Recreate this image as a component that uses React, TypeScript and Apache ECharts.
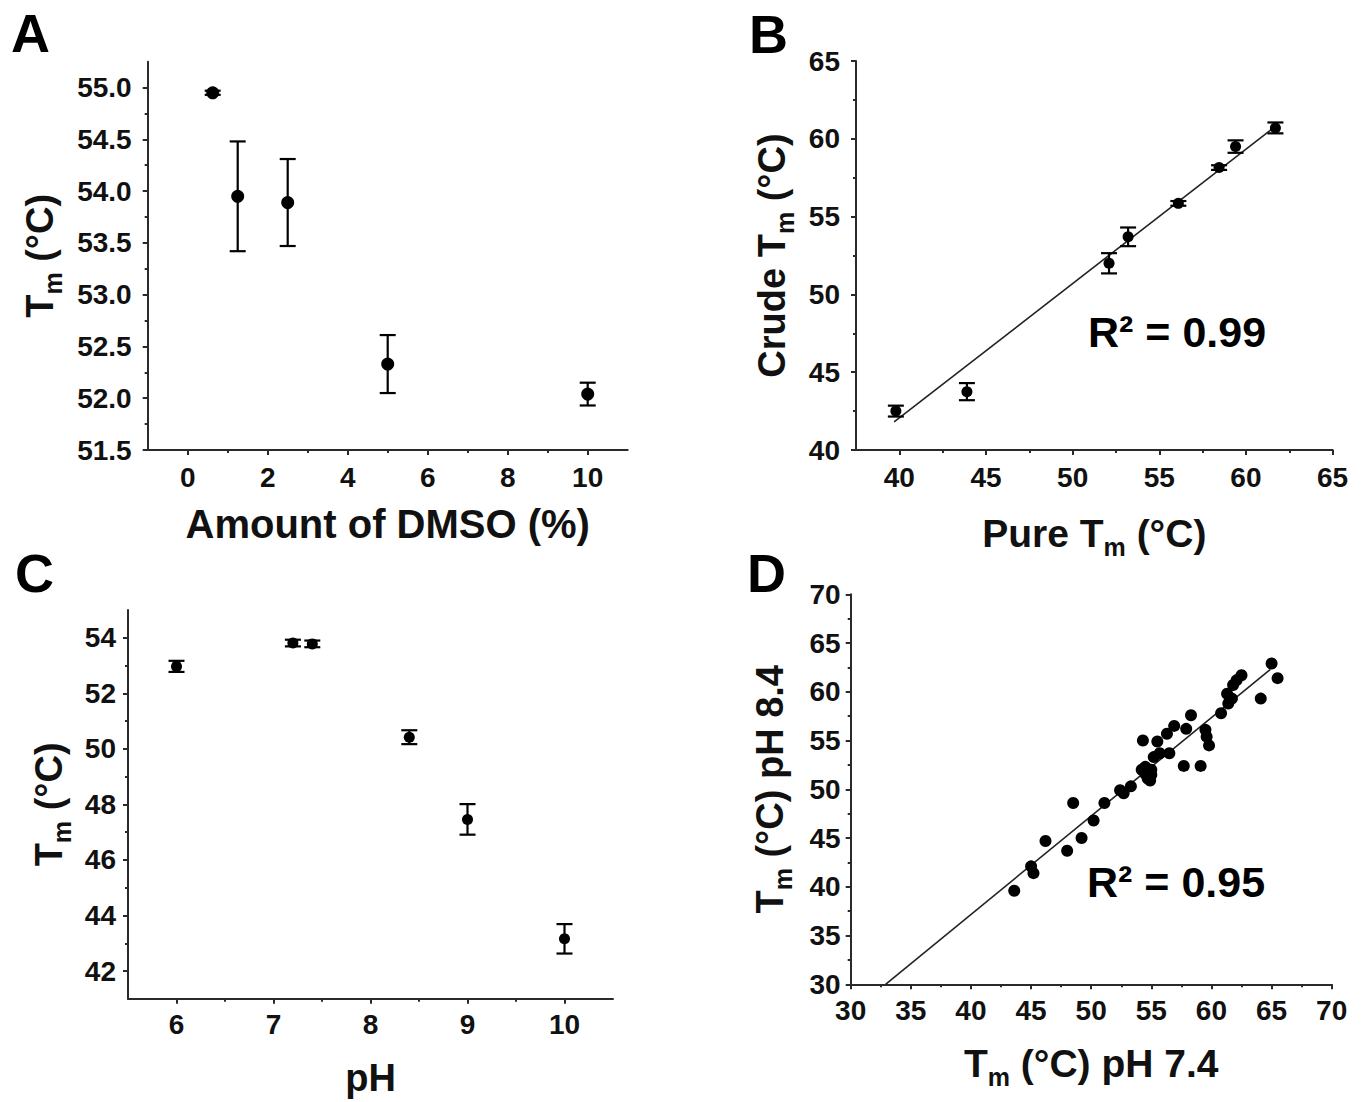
import React, { useEffect, useRef } from "react";
import * as echarts from "echarts";

// ---------- Panel A: DMSO ----------
const dmsoPct = [0.625, 1.25, 2.5, 5, 10];
const dmsoTm = [54.95, 53.95, 53.89, 52.33, 52.04];
const dmsoErr = [0.02, 0.53, 0.42, 0.28, 0.11];
const aXTicks = [0, 2, 4, 6, 8, 10];
const aXMinor = [1, 3, 5, 7, 9];
const aYTicks = [51.5, 52.0, 52.5, 53.0, 53.5, 54.0, 54.5, 55.0];
const aYMinor = [51.75, 52.25, 52.75, 53.25, 53.75, 54.25, 54.75];

// ---------- Panel B: pure vs crude ----------
const pureTm = [39.8, 43.9, 52.1, 53.2, 56.1, 58.45, 59.4, 61.7];
const crudeTm = [42.5, 43.75, 52.0, 53.7, 55.85, 58.15, 59.5, 60.7];
const crudeErr = [0.35, 0.55, 0.65, 0.6, 0.15, 0.15, 0.4, 0.35];
const bFitX = [39.7, 61.7];
const bFitY = [41.8, 60.8];
const bXTicks = [40, 45, 50, 55, 60, 65];
const bXMinor = [42.5, 47.5, 52.5, 57.5, 62.5];
const bYTicks = [40, 45, 50, 55, 60, 65];
const bYMinor = [42.5, 47.5, 52.5, 57.5, 62.5];

// ---------- Panel C: pH ----------
const phValues = [6, 7.2, 7.4, 8.4, 9, 10];
const phTm = [52.97, 53.81, 53.78, 50.42, 47.46, 43.16];
const phErr = [0.2, 0.12, 0.12, 0.25, 0.55, 0.53];
const cXTicks = [6, 7, 8, 9, 10];
const cXMinor = [6.5, 7.5, 8.5, 9.5];
const cYTicks = [42, 44, 46, 48, 50, 52, 54];
const cYMinor = [43, 45, 47, 49, 51, 53];

// ---------- Panel D: pH 7.4 vs pH 8.4 ----------
const dPh74 = [
  43.6, 45.0, 45.2, 46.2, 48.0, 48.5, 49.2, 50.2, 51.1, 52.4, 52.7, 53.3,
  54.3, 54.2, 54.5, 54.7, 55.0, 54.9, 54.5, 55.0, 55.2, 55.5, 55.7, 56.3,
  56.5, 56.9, 57.7, 57.9, 58.3, 59.1, 59.5, 59.6, 59.8, 60.8, 61.3, 61.4,
  61.7, 61.8, 62.1, 62.5, 64.1, 65.0, 65.5,
];
const dPh84 = [
  39.6, 42.1, 41.4, 44.7, 43.7, 48.6, 45.0, 46.8, 48.6, 49.9, 49.6, 50.3,
  55.0, 52.0, 51.6, 51.1, 51.5, 50.9, 52.3, 52.0, 53.3, 54.9, 53.7, 55.7,
  53.7, 56.5, 52.4, 56.2, 57.6, 52.4, 56.1, 55.4, 54.5, 57.8, 59.8, 58.8,
  59.3, 60.7, 61.2, 61.7, 59.3, 62.9, 61.4,
];
const dFitX = [32.9, 64.9];
const dFitY = [30, 62.3];
const dTicks = [30, 35, 40, 45, 50, 55, 60, 65, 70];
const dMinor = [32.5, 37.5, 42.5, 47.5, 52.5, 57.5, 62.5, 67.5];

const FONT = "'Liberation Sans', Arial, Helvetica, sans-serif";
const INK = "#111";
const AXIS = "#2a2a2a";

function titleStyle(size: number) {
  return {
    fontFamily: FONT,
    fontWeight: "bold",
    fontSize: size,
    color: INK,
    rich: {
      a: { fontFamily: FONT, fontWeight: "bold", fontSize: size, color: INK, lineHeight: size + 6 },
      s: {
        fontFamily: FONT,
        fontWeight: "bold",
        fontSize: 25,
        color: INK,
        lineHeight: 25,
        padding: [26, 0, 0, 0],
      },
    },
  };
}

function mainAxis(
  dim: "x" | "y",
  grid: number,
  min: number,
  max: number,
  ticks: number[],
  fmt: (v: number) => string,
  labelMargin: number,
  name: string,
  nameGap: number,
  nameSize: number
) {
  return {
    type: "value",
    gridIndex: grid,
    min,
    max,
    position: dim === "x" ? "bottom" : "left",
    axisLine: { show: true, onZero: false, lineStyle: { color: AXIS, width: 2 } },
    axisTick: {
      show: true,
      customValues: ticks,
      length: 5,
      inside: false,
      lineStyle: { color: AXIS, width: 2 },
    },
    axisLabel: {
      show: true,
      customValues: ticks,
      formatter: fmt,
      margin: labelMargin,
      color: INK,
      fontFamily: FONT,
      fontSize: 28,
      fontWeight: "bold",
    },
    splitLine: { show: false },
    minorTick: { show: false },
    name,
    nameLocation: "middle",
    nameGap,
    nameMoveOverlap: false,
    nameTextStyle: titleStyle(nameSize),
  };
}

function minorAxis(dim: "x" | "y", grid: number, min: number, max: number, ticks: number[]) {
  return {
    type: "value",
    gridIndex: grid,
    min,
    max,
    position: dim === "x" ? "bottom" : "left",
    axisLine: { show: false, onZero: false },
    axisTick: {
      show: true,
      customValues: ticks,
      length: 3,
      inside: false,
      lineStyle: { color: AXIS, width: 2 },
    },
    axisLabel: { show: false },
    splitLine: { show: false },
  };
}

const fmt1 = (v: number) => v.toFixed(1);
const fmt0 = (v: number) => String(Math.round(v));

function errorSeries(grid: number, xs: number[], ys: number[], es: number[], hw: number) {
  return {
    type: "custom",
    xAxisIndex: grid * 2,
    yAxisIndex: grid * 2,
    data: xs.map((x, i) => [x, ys[i] - es[i], ys[i] + es[i]]),
    encode: { x: 0, y: [1, 2] },
    z: 3,
    renderItem: (_params: any, api: any) => {
      const x = api.value(0);
      const lo = api.value(1);
      const hi = api.value(2);
      const top = api.coord([x, hi]);
      const bot = api.coord([x, lo]);
      const style = { stroke: "#000", lineWidth: 2.2, fill: "none" };
      return {
        type: "group",
        children: [
          { type: "line", shape: { x1: top[0], y1: top[1], x2: bot[0], y2: bot[1] }, style },
          { type: "line", shape: { x1: top[0] - hw, y1: top[1], x2: top[0] + hw, y2: top[1] }, style },
          { type: "line", shape: { x1: bot[0] - hw, y1: bot[1], x2: bot[0] + hw, y2: bot[1] }, style },
        ],
      };
    },
  };
}

function scatterSeries(grid: number, xs: number[], ys: number[], size: number) {
  return {
    type: "scatter",
    xAxisIndex: grid * 2,
    yAxisIndex: grid * 2,
    data: xs.map((x, i) => [x, ys[i]]),
    symbol: "circle",
    symbolSize: size,
    itemStyle: { color: "#000", opacity: 1 },
    z: 4,
  };
}

function fitSeries(grid: number, xs: number[], ys: number[]) {
  return {
    type: "line",
    xAxisIndex: grid * 2,
    yAxisIndex: grid * 2,
    data: xs.map((x, i) => [x, ys[i]]),
    symbol: "none",
    lineStyle: { color: "#222", width: 1.6 },
    z: 2,
  };
}

function letter(text: string, x: number, y: number) {
  return {
    type: "text",
    x,
    y,
    style: {
      text,
      fill: "#000",
      fontFamily: FONT,
      fontWeight: "bold",
      fontSize: 54,
      textAlign: "left",
      textVerticalAlign: "middle",
    },
  };
}

function rsq(text: string, x: number, y: number) {
  return {
    type: "text",
    x,
    y,
    style: {
      text,
      fill: "#000",
      fontFamily: FONT,
      fontWeight: "bold",
      fontSize: 43,
      textAlign: "left",
      textVerticalAlign: "middle",
    },
  };
}

export default function App() {
  const ref = useRef<HTMLDivElement>(null);

  useEffect(() => {
    document.body.style.margin = "0";
    if (!ref.current) return;
    const chart = echarts.init(ref.current, undefined, { renderer: "svg" });

    const option: any = {
      animation: false,
      backgroundColor: "#fff",
      grid: [
        { left: 147.7, top: 61.7, width: 480, height: 388.3, containLabel: false, outerBoundsMode: "none" },
        { left: 856, top: 61, width: 476.6, height: 389, containLabel: false, outerBoundsMode: "none" },
        { left: 128, top: 610, width: 485, height: 388.8, containLabel: false, outerBoundsMode: "none" },
        { left: 850.7, top: 594.3, width: 481, height: 390, containLabel: false, outerBoundsMode: "none" },
      ],
      xAxis: [
        mainAxis("x", 0, -1, 11, aXTicks, fmt0, 13, "Amount of DMSO (%)", 54, 40),
        minorAxis("x", 0, -1, 11, aXMinor),
        mainAxis("x", 1, 37.5, 65, bXTicks, fmt0, 13, "{a|Pure T}{s|m}{a| (°C)}", 61, 39),
        minorAxis("x", 1, 37.5, 65, bXMinor),
        mainAxis("x", 2, 5.5, 10.5, cXTicks, fmt0, 12, "pH", 60, 38),
        minorAxis("x", 2, 5.5, 10.5, cXMinor),
        mainAxis("x", 3, 30, 70, dTicks, fmt0, 12, "{a|T}{s|m}{a| (°C) pH 7.4}", 57, 39),
        minorAxis("x", 3, 30, 70, dMinor),
      ],
      yAxis: [
        mainAxis("y", 0, 51.5, 55.25, aYTicks, fmt1, 16, "{a|T}{s|m}{a| (°C)}", 86, 38),
        minorAxis("y", 0, 51.5, 55.25, aYMinor),
        mainAxis("y", 1, 40, 65, bYTicks, fmt0, 16, "{a|Crude T}{s|m}{a| (°C)}", 62, 38),
        minorAxis("y", 1, 40, 65, bYMinor),
        mainAxis("y", 2, 41, 55, cYTicks, fmt0, 12, "{a|T}{s|m}{a| (°C)}", 57, 38),
        minorAxis("y", 2, 41, 55, cYMinor),
        mainAxis("y", 3, 30, 70, dTicks, fmt0, 10, "{a|T}{s|m}{a| (°C) pH 8.4}", 59, 38),
        minorAxis("y", 3, 30, 70, dMinor),
      ],
      series: [
        errorSeries(0, dmsoPct, dmsoTm, dmsoErr, 8),
        scatterSeries(0, dmsoPct, dmsoTm, 13),
        fitSeries(1, bFitX, bFitY),
        errorSeries(1, pureTm, crudeTm, crudeErr, 8),
        scatterSeries(1, pureTm, crudeTm, 11),
        errorSeries(2, phValues, phTm, phErr, 8),
        scatterSeries(2, phValues, phTm, 11),
        fitSeries(3, dFitX, dFitY),
        scatterSeries(3, dPh74, dPh84, 12),
      ],
      graphic: [
        letter("A", 11, 33),
        letter("B", 749, 34),
        letter("C", 15, 573),
        letter("D", 747, 573),
        rsq("R² = 0.99", 1088, 332),
        rsq("R² = 0.95", 1087, 882),
      ],
    };

    chart.setOption(option);
    return () => chart.dispose();
  }, []);

  return <div ref={ref} style={{ width: 1368, height: 1102 }} />;
}
